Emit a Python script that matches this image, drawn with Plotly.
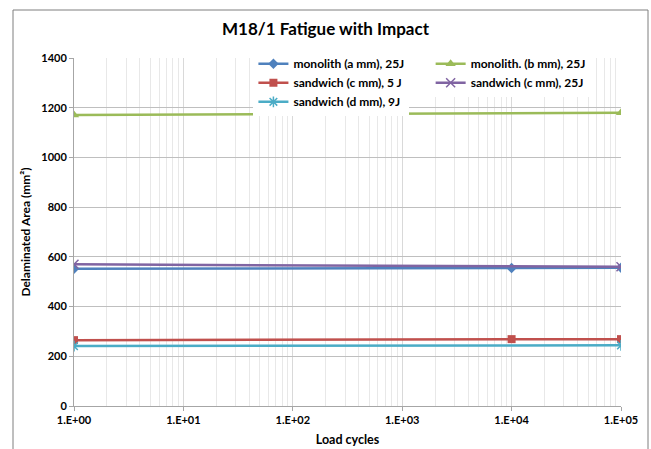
import plotly.graph_objects as go

x_full = [1, 1e4, 1e5]
x_ends = [1, 1e5]

mono_a = [552, 555, 556]
mono_b = [1171, 1180]
sand_c5 = [265, 269, 269]
sand_c25 = [570, 560]
sand_d9 = [241, 244]

names = ["monolith (a mm), 25J", "monolith. (b mm), 25J", "sandwich (c mm), 5 J",
         "sandwich (c mm), 25J", "sandwich (d mm), 9J"]

x_tickvals = [1, 10, 100, 1000, 10000, 100000]
x_ticktext = ["1.E+00", "1.E+01", "1.E+02", "1.E+03", "1.E+04", "1.E+05"]
y_tickvals = [0, 200, 400, 600, 800, 1000, 1200, 1400]

FONT = "Lato"

fig = go.Figure()
fig.add_trace(go.Scatter(x=x_full, y=mono_a, name="<b>" + names[0] + "</b>", mode="lines+markers",
                         line=dict(color="#4F81BD", width=2.5),
                         marker=dict(symbol="diamond", size=8, color="#4F81BD"),
                         legend="legend"))
fig.add_trace(go.Scatter(x=x_ends, y=mono_b, name="<b>" + names[1] + "</b>", mode="lines+markers",
                         line=dict(color="#9BBB59", width=2.5),
                         marker=dict(symbol="triangle-up", size=9, color="#9BBB59"),
                         legend="legend2"))
fig.add_trace(go.Scatter(x=x_full, y=sand_c5, name="<b>" + names[2] + "</b>", mode="lines+markers",
                         line=dict(color="#C0504D", width=2.5),
                         marker=dict(symbol="square", size=8, color="#C0504D"),
                         legend="legend"))
fig.add_trace(go.Scatter(x=x_ends, y=sand_c25, name="<b>" + names[3] + "</b>", mode="lines+markers",
                         line=dict(color="#8064A2", width=2.5),
                         marker=dict(symbol="x-thin-open", size=9,
                                     line=dict(color="#8064A2", width=1.5)),
                         legend="legend2"))
fig.add_trace(go.Scatter(x=x_ends, y=sand_d9, name="<b>" + names[4] + "</b>", mode="lines+markers",
                         line=dict(color="#4BACC6", width=2.5),
                         marker=dict(symbol="asterisk-open", size=9,
                                     line=dict(color="#4BACC6", width=1.5)),
                         legend="legend"))

legend_common = dict(bgcolor="rgba(255,255,255,1)", borderwidth=0,
                     font=dict(family=FONT, size=12, color="#000000"),
                     tracegroupgap=0, itemwidth=30, yanchor="top", xanchor="left",
                     traceorder="normal")

fig.update_layout(
    width=651, height=449,
    margin=dict(l=74, r=30, t=58, b=43),
    paper_bgcolor="white", plot_bgcolor="white",
    title=dict(text="<b>M18/1 Fatigue with Impact</b>", x=0.5, xanchor="center",
               y=0.935, yanchor="middle",
               font=dict(family=FONT, size=17, color="#000000")),
    showlegend=True,
    legend=dict(x=0.328, y=1.025, **legend_common),
    legend2=dict(x=0.652, y=1.025, **legend_common),
    xaxis=dict(type="log", range=[0, 5], tickvals=x_tickvals,
               ticktext=["<b>" + t + "</b>" for t in x_ticktext],
               showgrid=True, gridcolor="#D9D9D9", gridwidth=1,
               minor=dict(showgrid=True, gridcolor="#E8E8E8", gridwidth=1,
                          tickvals=[m * 10 ** e for e in range(5) for m in range(2, 10)]),
               showline=True, linecolor="#A6A6A6", linewidth=1,
               ticks="outside", ticklen=4, tickcolor="#A6A6A6",
               tickfont=dict(family=FONT, size=11, color="#000000"),
               title=dict(text="<b>Load cycles</b>", standoff=10,
                          font=dict(family=FONT, size=12.5, color="#000000")),
               zeroline=False, automargin=False),
    yaxis=dict(range=[0, 1400], tickvals=y_tickvals,
               ticktext=["<b>" + str(v) + "</b>" for v in y_tickvals],
               showgrid=True, gridcolor="#BFBFBF", gridwidth=1,
               showline=True, linecolor="#A6A6A6", linewidth=1,
               ticks="outside", ticklen=4, tickcolor="#A6A6A6",
               tickfont=dict(family=FONT, size=11, color="#000000"),
               title=dict(text="<b>Delaminated Area (mm²)</b>", standoff=8,
                          font=dict(family=FONT, size=12, color="#000000")),
               zeroline=False, automargin=False),
    shapes=[dict(type="rect", xref="paper", yref="paper",
                 x0=(13 - 74) / 547, x1=(648 - 74) / 547,
                 y0=-0.2, y1=(406 - 10) / 348,
                 line=dict(color="#7F7F7F", width=1), fillcolor="rgba(0,0,0,0)",
                 layer="below")],
)

fig.write_html("out.html")
